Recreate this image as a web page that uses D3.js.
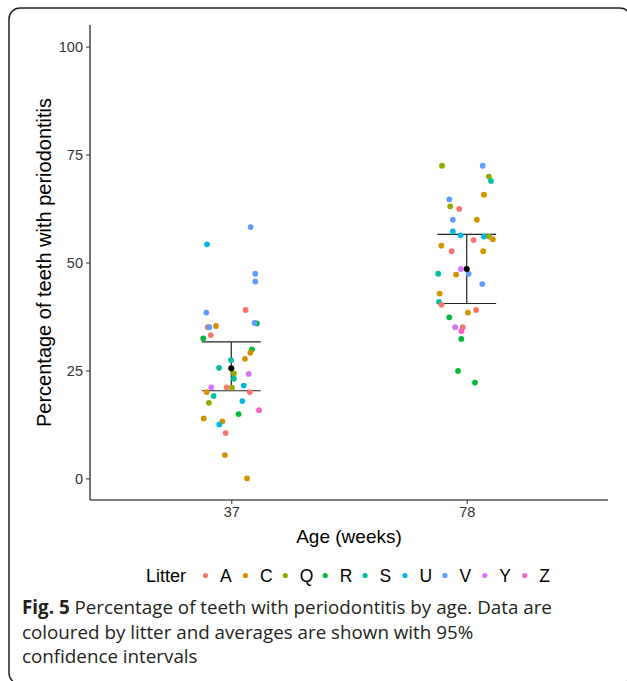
<!DOCTYPE html>
<html><head><meta charset="utf-8">
<script src="https://cdn.jsdelivr.net/npm/d3@7"></script>
<style>body{margin:0;background:#fff}svg{display:block}</style>
</head><body><svg id="c" width="627" height="681"></svg>
<script>
// ---- data ----
const categories = ["37", "78"];
const litters = ["A", "C", "Q", "R", "S", "U", "V", "Y", "Z"];
const yTicks = [0, 25, 50, 75, 100];

const age37Litter = ["U","V","V","V","A","V","R","V","A","V","C","A","R","R","C","C","S","S","Q","Y","S","Y","A","Q","U","C","A","S","Q","U","Z","R","C","C","U","A","C","C"];
const age37Value  = [54.2,58.2,47.4,45.6,39.0,38.4,35.9,36.0,35.0,35.0,35.3,33.2,32.4,29.9,29.1,27.7,27.4,25.6,24.3,24.2,23.1,21.1,21.1,21.0,21.5,20.0,20.0,19.1,17.5,17.9,15.8,14.9,13.9,13.2,12.5,10.5,5.4,0.0];
const age37Jitter = [-0.103,0.082,0.102,0.102,0.061,-0.106,0.109,0.099,-0.100,-0.093,-0.065,-0.087,-0.119,0.088,0.081,0.058,-0.001,-0.052,0.011,0.074,0.011,-0.085,-0.020,0.003,0.053,-0.104,0.079,-0.075,-0.095,0.047,0.118,0.031,-0.117,-0.038,-0.051,-0.024,-0.027,0.067];

const age78Litter = ["Q","V","Q","S","C","V","Q","A","V","C","U","U","U","Q","C","A","C","A","C","Y","V","S","C","V","C","S","A","C","A","R","Y","A","Z","R","R","R"];
const age78Value  = [72.4,72.4,69.9,68.9,65.7,64.6,63.0,62.4,59.9,59.9,57.2,56.3,56.0,56.0,55.4,55.2,53.9,52.6,52.6,48.5,47.4,47.4,47.2,45.0,42.8,40.9,40.2,38.4,39.0,37.3,35.0,35.0,34.1,32.3,24.9,22.2];
const age78Jitter = [-0.105,0.068,0.094,0.103,0.073,-0.074,-0.070,-0.032,-0.059,0.043,-0.059,-0.026,0.073,0.094,0.111,0.029,-0.108,-0.064,0.070,-0.025,0.008,-0.121,-0.045,0.066,-0.115,-0.118,-0.107,0.005,0.040,-0.074,-0.049,-0.017,-0.023,-0.023,-0.037,0.035];

const meanValue = [25.5, 48.5];
const ciLower   = [20.3, 40.5];
const ciUpper   = [31.6, 56.5];

// ---- styles ----
const palette = ["#F8766D","#D39200","#93AA00","#00BA38","#00C19F","#00B9E3","#619CFF","#DB72FB","#FF61C3"];
const FONT = "'Liberation Sans', Arial, sans-serif";

const svg = d3.select("#c");
svg.append("rect").attr("width",627).attr("height",681).attr("fill","#fff");

// frame
svg.append("rect").attr("x",9).attr("y",8).attr("width",622).attr("height",676)
  .attr("rx",11).attr("fill","none").attr("stroke","#231f20").attr("stroke-width",1.5);

const pL = 90, pR = 608, pT = 25, pB = 500;
const color = d3.scaleOrdinal().domain(litters).range(palette);
const y = d3.scaleLinear().domain([-5, 105]).range([pB, pT]);
const xPos = d3.scaleLinear().domain([0.4, 2.6]).range([pL, pR]);
const xCat = d3.scaleOrdinal().domain(categories).range([1, 2]);

// axes
const yAxis = svg.append("g").attr("transform",`translate(${pL},0)`)
  .call(d3.axisLeft(y).tickValues(yTicks).tickSize(4).tickPadding(3).tickSizeOuter(0));
const xAxis = svg.append("g").attr("transform",`translate(0,${pB})`)
  .call(d3.axisBottom(xPos).tickValues(categories.map(c=>xCat(c))).tickFormat((d,i)=>categories[i]).tickSize(4).tickPadding(3).tickSizeOuter(0));
[yAxis, xAxis].forEach(a=>{
  a.select(".domain").attr("stroke","#000").attr("stroke-width",1.1);
  a.selectAll(".tick line").attr("stroke","#333").attr("stroke-width",1);
  a.selectAll(".tick text").attr("fill","#333").style("font-family",FONT).style("font-size","14.5px");
});
yAxis.select(".domain").attr("d",`M0,${pT}V${pB}`);
xAxis.select(".domain").attr("d",`M${pL},0H${pR}`);

svg.append("text").attr("x",(pL+pR)/2).attr("y",543).attr("text-anchor","middle")
  .style("font-family",FONT).style("font-size","19px").attr("fill","#000").text("Age (weeks)");
svg.append("text").attr("transform",`translate(51,${(pT+pB)/2}) rotate(-90)`).attr("text-anchor","middle")
  .style("font-family",FONT).style("font-size","20px").attr("fill","#000").text("Percentage of teeth with periodontitis");

// error bars
const eb = svg.append("g");
categories.forEach((c,i)=>{
  const cx = xPos(xCat(c)), hw = xPos(1.125)-xPos(1);
  eb.append("line").attr("x1",cx).attr("x2",cx).attr("y1",y(ciLower[i])).attr("y2",y(ciUpper[i])).attr("stroke","#222").attr("stroke-width",1.2);
  [ciLower[i],ciUpper[i]].forEach(v=>eb.append("line").attr("x1",cx-hw).attr("x2",cx+hw).attr("y1",y(v)).attr("y2",y(v)).attr("stroke","#222").attr("stroke-width",1.2));
});

// points
const groups = [
  {cat:"37", litter:age37Litter, value:age37Value, jitter:age37Jitter},
  {cat:"78", litter:age78Litter, value:age78Value, jitter:age78Jitter}
];
groups.forEach(g=>{
  const pts = g.value.map((v,i)=>({v, l:g.litter[i], j:g.jitter[i]}));
  svg.append("g").selectAll("circle").data(pts).join("circle")
    .attr("cx",d=>xPos(xCat(g.cat)+d.j)).attr("cy",d=>y(d.v)).attr("r",2.9)
    .attr("fill",d=>color(d.l));
});

// means
svg.append("g").selectAll("circle").data(categories).join("circle")
  .attr("cx",c=>xPos(xCat(c))).attr("cy",(c,i)=>y(meanValue[i])).attr("r",3).attr("fill","#000");

// legend
const lg = svg.append("g");
lg.append("text").attr("x",146).attr("y",582).style("font-family",FONT).style("font-size","18px").attr("fill","#000").text("Litter");
litters.forEach((l,i)=>{
  const x0 = 205.5 + i*39.9;
  lg.append("circle").attr("cx",x0).attr("cy",575.5).attr("r",2.6).attr("fill",color(l));
  lg.append("text").attr("x",x0+14.5).attr("y",582).style("font-family",FONT).style("font-size","17.5px").attr("fill","#000").text(l);
});

// caption
const CF = "'Open Sans', 'Noto Sans', sans-serif";
const cap = svg.append("g").style("font-family",CF).style("font-size","18.8px").attr("fill","#231f20");
const t1 = cap.append("text").attr("x",22).attr("y",614);
t1.append("tspan").style("font-weight","bold").text("Fig. 5");
t1.append("tspan").text(" Percentage of teeth with periodontitis by age. Data are");
cap.append("text").attr("x",22).attr("y",638.5).text("coloured by litter and averages are shown with 95%");
cap.append("text").attr("x",22).attr("y",663).text("confidence intervals");
</script></body></html>
